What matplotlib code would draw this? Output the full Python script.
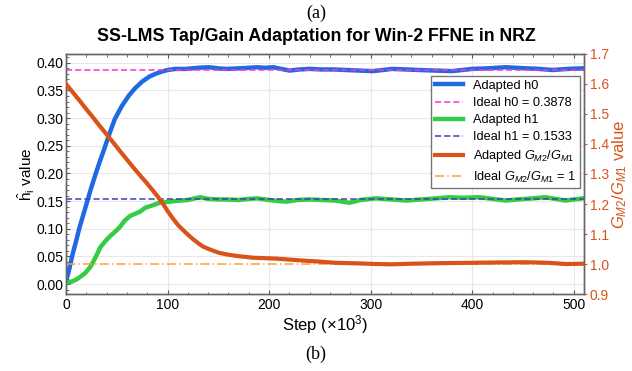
import matplotlib
matplotlib.use('Agg')
import matplotlib.pyplot as plt
from matplotlib.ticker import MultipleLocator, AutoMinorLocator

plt.rcParams['font.family'] = ['Liberation Sans', 'DejaVu Sans']
plt.rcParams['mathtext.fontset'] = 'custom'
plt.rcParams['mathtext.rm'] = 'Liberation Sans'
plt.rcParams['mathtext.it'] = 'Liberation Sans:italic'
plt.rcParams['mathtext.bf'] = 'Liberation Sans:bold'

# adapted h0 (step in thousands)
h0_steps = [0, 3, 6, 10, 13, 17, 21, 25, 29, 33, 38, 43, 48, 55, 62, 68, 75, 82, 88, 94,
            100, 108, 118, 130, 141, 150, 158, 170, 180, 188, 196, 204, 212, 220, 230, 240,
            252, 263, 276, 289, 302, 312, 321, 335, 348, 364, 380, 390, 400, 415, 433, 443,
            453, 466, 479, 494, 509]
h0_vals = [0.005, 0.025, 0.05, 0.078, 0.10, 0.125, 0.15, 0.175, 0.198, 0.220, 0.246, 0.273,
           0.298, 0.322, 0.341, 0.354, 0.366, 0.375, 0.380, 0.384, 0.387, 0.389, 0.389,
           0.391, 0.392, 0.390, 0.389, 0.390, 0.391, 0.392, 0.391, 0.392, 0.389, 0.386,
           0.388, 0.389, 0.388, 0.388, 0.387, 0.386, 0.385, 0.387, 0.389, 0.388, 0.387,
           0.386, 0.385, 0.387, 0.389, 0.390, 0.392, 0.391, 0.390, 0.389, 0.387, 0.389, 0.390]

# adapted h1
h1_steps = [0, 5, 10, 14, 19, 24, 29, 34, 39, 43, 48, 53, 58, 63, 68, 73, 78, 83, 88, 92,
            97, 102, 112, 120, 127, 132, 140, 150, 158, 170, 180, 188, 200, 210, 217, 228,
            240, 252, 265, 279, 290, 305, 320, 335, 350, 365, 377, 390, 407, 420, 433, 445,
            460, 472, 482, 492, 500, 509]
h1_vals = [0.003, 0.004, 0.008, 0.013, 0.02, 0.031, 0.048, 0.067, 0.078, 0.086, 0.094, 0.103,
           0.115, 0.123, 0.127, 0.131, 0.138, 0.141, 0.144, 0.147, 0.148, 0.149, 0.151, 0.152,
           0.155, 0.157, 0.154, 0.153, 0.153, 0.152, 0.154, 0.155, 0.152, 0.150, 0.149, 0.152,
           0.153, 0.152, 0.151, 0.147, 0.152, 0.155, 0.153, 0.151, 0.153, 0.155, 0.157, 0.156,
           0.157, 0.154, 0.151, 0.153, 0.155, 0.157, 0.154, 0.151, 0.153, 0.155]

# adapted gain ratio G_M2/G_M1
g_steps = [0, 7, 14, 20, 27, 33, 40, 47, 53, 60, 66, 73, 79, 86, 91, 96, 100, 105, 110, 115,
           120, 125, 130, 135, 142, 151, 160, 168, 184, 207, 223, 240, 250, 265, 289, 305,
           321, 340, 371, 400, 420, 453, 475, 492, 509]
g_vals = [1.600, 1.571, 1.542, 1.516, 1.487, 1.461, 1.432, 1.403, 1.377, 1.348, 1.323, 1.295,
          1.272, 1.243, 1.222, 1.198, 1.177, 1.153, 1.131, 1.114, 1.098, 1.083, 1.070, 1.058,
          1.048, 1.037, 1.031, 1.027, 1.021, 1.018, 1.014, 1.010, 1.008, 1.004, 1.002, 1.000,
          0.999, 1.001, 1.003, 1.004, 1.005, 1.006, 1.004, 1.000, 1.001]

ideal_h0 = 0.3878
ideal_h1 = 0.1533
ideal_g = 1.0

orange = '#d95319'

fig = plt.figure(figsize=(6.32, 3.71), dpi=100)
ax = fig.add_axes([0.1044, 0.2075, 0.8196, 0.647])
ax2 = ax.twinx()

ax.plot(h0_steps, h0_vals, color='#1f6ae0', lw=3.2, label='Adapted h0', zorder=3)
ax.axhline(ideal_h0, color='#ff33cc', lw=1.1, ls=(0, (4, 2)), label='Ideal h0 = 0.3878', zorder=4)
ax.plot(h1_steps, h1_vals, color='#33cc44', lw=3.2, label='Adapted h1', zorder=3)
ax.axhline(ideal_h1, color='#4040b8', lw=1.1, ls=(0, (4, 2)), label='Ideal h1 = 0.1533', zorder=4)

ax2.plot(g_steps, g_vals, color=orange, lw=3, label='Adapted $G_{M2}/G_{M1}$', zorder=3)
ax2.axhline(ideal_g, color='#ffa030', lw=1.1, ls=(0, (6, 2, 1, 2)), label='Ideal $G_{M2}/G_{M1}$ = 1', zorder=2)

ax.set_xlim(0, 510)
ax.set_ylim(-0.018, 0.416)
ax2.set_ylim(0.9, 1.7)

ax.xaxis.set_major_locator(MultipleLocator(100))
ax.xaxis.set_minor_locator(AutoMinorLocator(5))
ax.yaxis.set_major_locator(MultipleLocator(0.05))
ax.yaxis.set_minor_locator(AutoMinorLocator(5))
ax.yaxis.set_major_formatter(plt.FormatStrFormatter('%.2f'))
ax2.yaxis.set_major_locator(MultipleLocator(0.1))

ax.grid(True, color='#e8e8e8', lw=0.8)
ax.set_axisbelow(True)
ax.tick_params(axis='both', which='both', direction='in', top=True, right=False,
               color='#555555', labelsize=10)
ax.tick_params(which='major', length=3)
ax.tick_params(which='minor', length=1.8)
ax.tick_params(axis='x', pad=3)
ax.tick_params(axis='y', pad=2)
ax2.tick_params(axis='y', which='major', direction='out', length=2.5, pad=1.5, color=orange,
                labelcolor=orange, labelsize=10)

for a in (ax, ax2):
    for s in a.spines.values():
        s.set_color('#666666')
        s.set_linewidth(1.0)

ax.set_xlabel('Step ($\\times10^3$)', fontsize=12, labelpad=1)
ax.set_ylabel('$\\hat{\\mathrm{h}}_{\\mathrm{i}}$ value', fontsize=11, labelpad=-1)
ax2.set_ylabel('$G_{M2}/G_{M1}$ value', fontsize=12, color=orange, labelpad=1)
ax.set_title('SS-LMS Tap/Gain Adaptation for Win-2 FFNE in NRZ', fontsize=12.8,
             fontweight='bold', pad=9, x=0.4826)

h1, l1 = ax.get_legend_handles_labels()
h2, l2 = ax2.get_legend_handles_labels()
leg = ax2.legend(h1 + h2, l1 + l2, loc='upper right', bbox_to_anchor=(0.992, 0.908),
                 borderaxespad=0, fontsize=9.2, fancybox=False, edgecolor='#777777',
                 framealpha=1, handlelength=2.2, labelspacing=0.4, borderpad=0.3,
                 handletextpad=0.75)
leg.get_frame().set_linewidth(1.0)

fig.text(0.5, 0.963, '(a)', ha='center', va='center', fontsize=13, family='Liberation Serif')
fig.text(0.5, 0.045, '(b)', ha='center', va='center', fontsize=13, family='Liberation Serif')

fig.savefig('out.png', dpi=100)
